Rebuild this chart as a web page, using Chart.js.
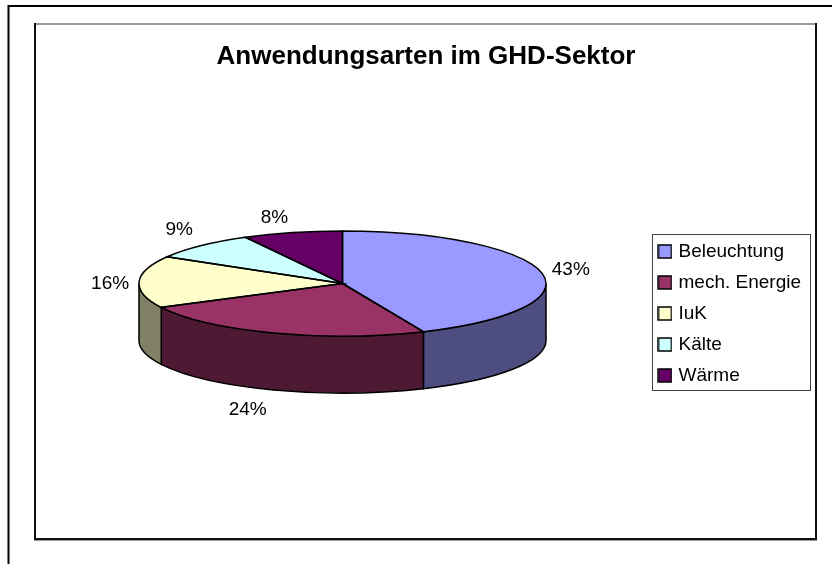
<!DOCTYPE html>
<html>
<head>
<meta charset="utf-8">
<title>Anwendungsarten im GHD-Sektor</title>
<script src="https://cdn.jsdelivr.net/npm/chart.js@4/dist/chart.umd.min.js"></script>
<style>
	body { margin: 0; background: #fff; overflow: hidden; }
	canvas { position: absolute; left: 0; top: 0; }
</style>
</head>
<body>
<canvas id="grafic" width="832" height="564"></canvas>
<script>
// Dades llegides del gràfic
const categories = ["Beleuchtung", "mech. Energie", "IuK", "Kälte", "Wärme"];
const valors = [43.49, 24, 16, 8.6, 7.91];
const colors = ["#9999ff", "#993366", "#ffffcc", "#ccffff", "#660066"];
const colorsLateral = ["#4d4d80", "#4d1933", "#808066", "#668080", "#330033"];
const titol = "Anwendungsarten im GHD-Sektor";

// Desplaçament de cada etiqueta respecte a la vora de la seva porció
const desplEtiquetes = [[29, -3], [-26, 20], [-29, 2], [-22, -16], [-18, -15]];

const aixafat = 52.5 / 203.5;	// alt/ample de l'el·lipse
const gruix = 57;

// Quadradet de la llegenda (com a imatge, per tenir el text més a prop)
function quadradet(color) {
	let c = document.createElement("canvas");
	c.width = 15;
	c.height = 15;
	let g = c.getContext("2d");
	g.fillStyle = color;
	g.fillRect(1, 1, 13, 13);
	g.strokeStyle = "#000";
	g.lineWidth = 1.5;
	g.strokeRect(1, 1, 13, 13);
	return c;
}

// Marcs del full, àrea del gràfic i títol
const marcs = {
	id: "marcs",
	beforeDraw(chart) {
		let ctx = chart.ctx;
		ctx.save();
		ctx.strokeStyle = "#000";
		ctx.lineWidth = 2;
		ctx.beginPath();
		ctx.moveTo(8.5, 564);
		ctx.lineTo(8.5, 6);
		ctx.lineTo(832, 6);
		ctx.stroke();
		ctx.strokeStyle = "#999";
		ctx.strokeRect(35, 24, 781, 516);
		ctx.strokeStyle = "#111";
		ctx.beginPath();
		ctx.moveTo(35, 23);
		ctx.lineTo(35, 539);
		ctx.lineTo(816, 539);
		ctx.lineTo(816, 23);
		ctx.stroke();
		ctx.restore();
	},
	afterDraw(chart) {
		let ctx = chart.ctx;
		ctx.save();
		ctx.font = "bold 26px 'Liberation Sans'";
		ctx.fillStyle = "#000";
		ctx.textAlign = "center";
		ctx.textBaseline = "middle";
		ctx.fillText(titol, 426, 57);
		ctx.restore();
	}
};

// Pastís en perspectiva: aplana els arcs i hi afegeix el lateral
const pastis3d = {
	id: "pastis3d",
	afterLayout(chart) {
		// col·loca la llegenda al seu lloc
		let l = chart.legend;
		l.top += 30;
		l.bottom += 30;
	},
	beforeDraw(chart) {
		// Caixa de la llegenda
		let ctx = chart.ctx;
		ctx.save();
		ctx.strokeStyle = "#444";
		ctx.lineWidth = 1;
		ctx.strokeRect(652.5, 234.5, 158, 156);
		ctx.restore();
	},
	beforeDatasetsDraw(chart) {
		let ctx = chart.ctx;
		let arcs = chart.getDatasetMeta(0).data;
		ctx.save();
		ctx.lineWidth = 1.5;
		ctx.strokeStyle = "#000";
		arcs.forEach((arc, i) => {
			let a = Math.max(arc.startAngle, 0);
			let b = Math.min(arc.endAngle, Math.PI);
			if (a >= b) return;
			let rx = arc.outerRadius, ry = rx * aixafat;
			ctx.beginPath();
			ctx.ellipse(arc.x, arc.y, rx, ry, 0, a, b);
			ctx.ellipse(arc.x, arc.y + gruix, rx, ry, 0, b, a, true);
			ctx.closePath();
			ctx.fillStyle = colorsLateral[i];
			ctx.fill();
			ctx.stroke();
		});
		ctx.restore();

		ctx.save();
		let cy = arcs[0].y;
		ctx.translate(0, cy);
		ctx.scale(1, aixafat);
		ctx.translate(0, -cy);
	},
	afterDatasetsDraw(chart) {
		let ctx = chart.ctx;
		ctx.restore();
		let arcs = chart.getDatasetMeta(0).data;
		ctx.save();
		ctx.lineWidth = 1.5;
		ctx.strokeStyle = "#000";
		arcs.forEach((arc) => {
			ctx.beginPath();
			ctx.moveTo(arc.x, arc.y);
			ctx.ellipse(arc.x, arc.y, arc.outerRadius, arc.outerRadius * aixafat, 0, arc.startAngle, arc.endAngle);
			ctx.closePath();
			ctx.stroke();
		});

		// Percentatges
		ctx.fillStyle = "#000";
		ctx.font = "19px 'Liberation Sans'";
		ctx.textAlign = "center";
		ctx.textBaseline = "middle";
		let total = valors.reduce((s, v) => s + v, 0);
		arcs.forEach((arc, i) => {
			let mig = (arc.startAngle + arc.endAngle) / 2;
			let x = arc.x + arc.outerRadius * Math.cos(mig);
			let y = arc.y + arc.outerRadius * aixafat * Math.sin(mig);
			if (Math.sin(mig) > 0) y += gruix;
			let text = Math.round(valors[i] / total * 100) + "%";
			ctx.fillText(text, x + desplEtiquetes[i][0], y + desplEtiquetes[i][1]);
		});
		ctx.restore();
	}
};

new Chart(document.getElementById("grafic"), {
	type: "pie",
	data: {
		labels: categories,
		datasets: [{
			data: valors,
			backgroundColor: colors,
			borderWidth: 0
		}]
	},
	plugins: [marcs, pastis3d],
	options: {
		responsive: false,
		animation: false,
		layout: { padding: { left: 36, right: 21, top: 80, bottom: 77 } },
		plugins: {
			tooltip: { enabled: false },
			title: { display: false },
			legend: {
				position: "right",
				labels: {
					usePointStyle: true,
					pointStyleWidth: 8,
					boxHeight: 14,
					padding: 12,
					color: "#000",
					font: { family: "'Liberation Sans'", size: 19 },
					generateLabels(chart) {
						return categories.map((nom, i) => ({
							text: nom,
							pointStyle: quadradet(colors[i]),
							index: i
						}));
					}
				}
			}
		}
	}
});
</script>
</body>
</html>
